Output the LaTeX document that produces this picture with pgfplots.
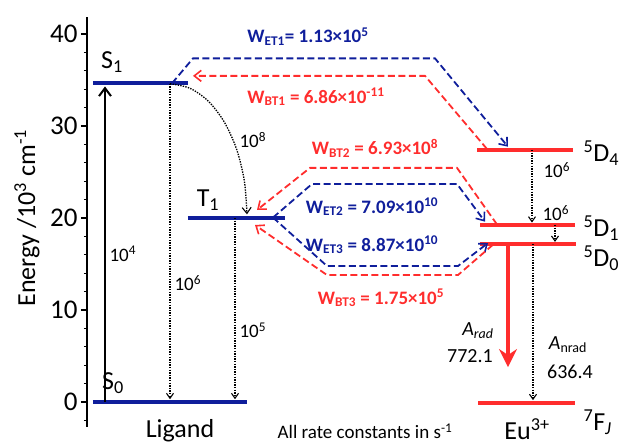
\documentclass[border=0pt]{standalone}
\usepackage{fontspec}
\setmainfont{Carlito}
\usepackage{pgfplots}
\pgfplotsset{compat=1.18}
\usetikzlibrary{arrows.meta}
\definecolor{lblue}{RGB}{15,30,155}
\definecolor{lred}{RGB}{255,45,45}
\begin{document}
\begin{tikzpicture}
\begin{axis}[
  scale only axis, width=540pt, height=409.4pt,
  xmin=87, xmax=627, ymin=-2.7, ymax=41.8,
  axis y line=left, axis x line=none,
  y axis line style={-, line width=1.5pt},
  ytick={0,10,20,30,40}, minor ytick={-2,2,4,6,8,12,14,16,18,22,24,26,28,32,34,36,38},
  tick align=outside, major tick length=6pt, minor tick length=3pt,
  every tick/.style={black, line width=1.3pt},
  yticklabel style={font=\fontsize{27}{30}\selectfont},
  /pgf/number format/assume math mode=true,
  clip=false,
]
% bounding box
\coordinate (bbSW) at (axis cs:0,-4.674);
\coordinate (bbNE) at (axis cs:627,43.696);
% ---------- levels ----------
\addplot[lblue, line width=4pt] coordinates {(93,34.64) (188,34.64)};
\addplot[lblue, line width=4pt] coordinates {(93,0) (247,0)};
\addplot[lblue, line width=4pt] coordinates {(188,20.05) (285,20.05)};
\addplot[lred, line width=4pt] coordinates {(477,27.4) (573,27.4)};
\addplot[lred, line width=4pt] coordinates {(480,19.24) (575,19.24)};
\addplot[lred, line width=4pt] coordinates {(480,17.17) (576,17.17)};
\addplot[lred, line width=4pt] coordinates {(478,-0.1) (575,-0.1)};
% ---------- ligand transitions ----------
\addplot[black, line width=2pt, -{Straight Barb[length=8pt,width=12pt,line width=2pt]}] coordinates {(105,0) (105,34.3)};
\addplot[black, line width=1.3pt, dash pattern=on 1.4pt off 1.2pt, -{Straight Barb[length=5pt,width=7pt,line width=1.1pt]}] coordinates {(170,34.6) (170,0.3)};
\addplot[black, line width=1.3pt, dash pattern=on 1.4pt off 1.2pt, -{Straight Barb[length=5pt,width=7pt,line width=1.1pt]}] coordinates {(235,20.0) (235,0.3)};
\addplot[black, line width=1.3pt, dash pattern=on 1.4pt off 1.2pt, smooth, -{Straight Barb[length=6pt,width=9pt,line width=1.1pt]}] coordinates {(170,34.6) (190,34.1) (208.5,32.68) (224.4,30.41) (236.7,27.45) (244.4,24.0) (247,20.4)};
% ---------- Eu transitions ----------
\addplot[black, line width=1.3pt, dash pattern=on 1.4pt off 1.2pt, -{Straight Barb[length=5pt,width=7pt,line width=1.1pt]}] coordinates {(532,27.4) (532,19.5)};
\addplot[black, line width=1.3pt, dash pattern=on 1.4pt off 1.2pt, -{Straight Barb[length=5pt,width=7pt,line width=1.1pt]}] coordinates {(555,19.24) (555,17.4)};
\addplot[black, line width=1.3pt, dash pattern=on 1.4pt off 1.2pt, -{Straight Barb[length=5pt,width=7pt,line width=1.1pt]}] coordinates {(533,17.17) (533,0.2)};
\addplot[lred, line width=4pt, -{Stealth[length=18pt,width=18pt,inset=6pt]}] coordinates {(508,17.17) (508,3.8)};
% ---------- energy transfer paths ----------
\addplot[lblue, line width=1.8pt, dash pattern=on 7pt off 3.5pt, -{Straight Barb[length=7pt,width=11pt,line width=1.6pt]}] coordinates {(172,34.64) (193,37.35) (435,37.35) (508,27.75)};
\addplot[lred, line width=1.8pt, dash pattern=on 7pt off 3.5pt, -{Straight Barb[length=7pt,width=11pt,line width=1.6pt]}] coordinates {(487,27.5) (425,35.45) (193,35.45)};
\addplot[lred, line width=1.8pt, dash pattern=on 7pt off 3.5pt, -{Straight Barb[length=7pt,width=11pt,line width=1.6pt]}] coordinates {(497,19.3) (457,25.45) (310,25.45) (257,20.87)};
\addplot[lblue, line width=1.8pt, dash pattern=on 7pt off 3.5pt, -{Straight Barb[length=7pt,width=11pt,line width=1.6pt]}] coordinates {(273,20.05) (312,23.7) (457,23.7) (485,19.6)};
\addplot[lblue, line width=1.8pt, dash pattern=on 7pt off 3.5pt, -{Straight Barb[length=7pt,width=11pt,line width=1.6pt]}] coordinates {(273,20.05) (327,14.78) (458,14.78) (488,17.28)};
\addplot[lred, line width=1.8pt, dash pattern=on 7pt off 3.5pt, -{Straight Barb[length=7pt,width=11pt,line width=1.6pt]}] coordinates {(493,17.1) (458,13.8) (327,13.8) (255,19.24)};
% ---------- labels ----------
\node[rotate=90, font=\fontsize{26}{30}\selectfont] at (axis cs:27,20) {Energy /10\textsuperscript{3} cm\textsuperscript{-1}};
\node[font=\fontsize{26}{30}\selectfont] at (axis cs:112,36.96) {S\textsubscript{1}};
\node[font=\fontsize{26}{30}\selectfont] at (axis cs:208,21.96) {T\textsubscript{1}};
\node[font=\fontsize{26}{30}\selectfont] at (axis cs:113,2.07) {S\textsubscript{0}};
\node[anchor=west, font=\fontsize{26}{30}\selectfont] at (axis cs:580,27.07) {\textsuperscript{5}D\textsubscript{4}};
\node[anchor=west, font=\fontsize{26}{30}\selectfont] at (axis cs:580,18.9) {\textsuperscript{5}D\textsubscript{1}};
\node[anchor=west, font=\fontsize{26}{30}\selectfont] at (axis cs:580,15.65) {\textsuperscript{5}D\textsubscript{0}};
\node[anchor=west, font=\fontsize{26}{30}\selectfont] at (axis cs:580,-2.17) {\textsuperscript{7}F\textsubscript{\itshape J}};
\node[font=\fontsize{26}{30}\selectfont] at (axis cs:180,-3.1) {Ligand};
\node[font=\fontsize{26}{30}\selectfont] at (axis cs:527,-3.0) {Eu\textsuperscript{3+}};
\node[font=\fontsize{19}{22}\selectfont] at (axis cs:365,-3.2) {All rate constants in s\textsuperscript{-1}};
% rate numbers
\node[anchor=west, font=\fontsize{19}{22}\selectfont] at (axis cs:106,16.1) {10\textsuperscript{4}};
\node[anchor=west, font=\fontsize{19}{22}\selectfont] at (axis cs:171,12.9) {10\textsuperscript{6}};
\node[anchor=west, font=\fontsize{19}{22}\selectfont] at (axis cs:236,7.8) {10\textsuperscript{5}};
\node[anchor=west, font=\fontsize{19}{22}\selectfont] at (axis cs:236,28.5) {10\textsuperscript{8}};
\node[anchor=west, font=\fontsize{19}{22}\selectfont] at (axis cs:540,25.2) {10\textsuperscript{6}};
\node[anchor=west, font=\fontsize{19}{22}\selectfont] at (axis cs:539,20.5) {10\textsuperscript{6}};
\node[font=\fontsize{20}{24}\selectfont] at (axis cs:478,7.8) {\textit{A\textsubscript{rad}}};
\node[font=\fontsize{20}{24}\selectfont] at (axis cs:470,5.0) {772.1};
\node[font=\fontsize{20}{24}\selectfont] at (axis cs:568,6.2) {\textit{A}\textsubscript{nrad}};
\node[font=\fontsize{20}{24}\selectfont] at (axis cs:570,3.26) {636.4};
% W labels
\node[lblue, font=\fontsize{19}{22}\selectfont\bfseries] at (axis cs:308,39.7) {W\textsubscript{ET1}= 1.13×10\textsuperscript{5}};
\node[lred, font=\fontsize{19}{22}\selectfont\bfseries] at (axis cs:316,33.15) {W\textsubscript{BT1} = 6.86×10\textsuperscript{-11}};
\node[lred, font=\fontsize{19}{22}\selectfont\bfseries] at (axis cs:375,27.6) {W\textsubscript{BT2} = 6.93×10\textsuperscript{8}};
\node[lblue, font=\fontsize{19}{22}\selectfont\bfseries] at (axis cs:372,21.2) {W\textsubscript{ET2} = 7.09×10\textsuperscript{10}};
\node[lblue, font=\fontsize{19}{22}\selectfont\bfseries] at (axis cs:372,17.07) {W\textsubscript{ET3} = 8.87×10\textsuperscript{10}};
\node[lred, font=\fontsize{19}{22}\selectfont\bfseries] at (axis cs:381,11.3) {W\textsubscript{BT3} = 1.75×10\textsuperscript{5}};
\end{axis}
\pgfresetboundingbox
\useasboundingbox (bbSW) rectangle (bbNE);
\end{tikzpicture}
\end{document}
